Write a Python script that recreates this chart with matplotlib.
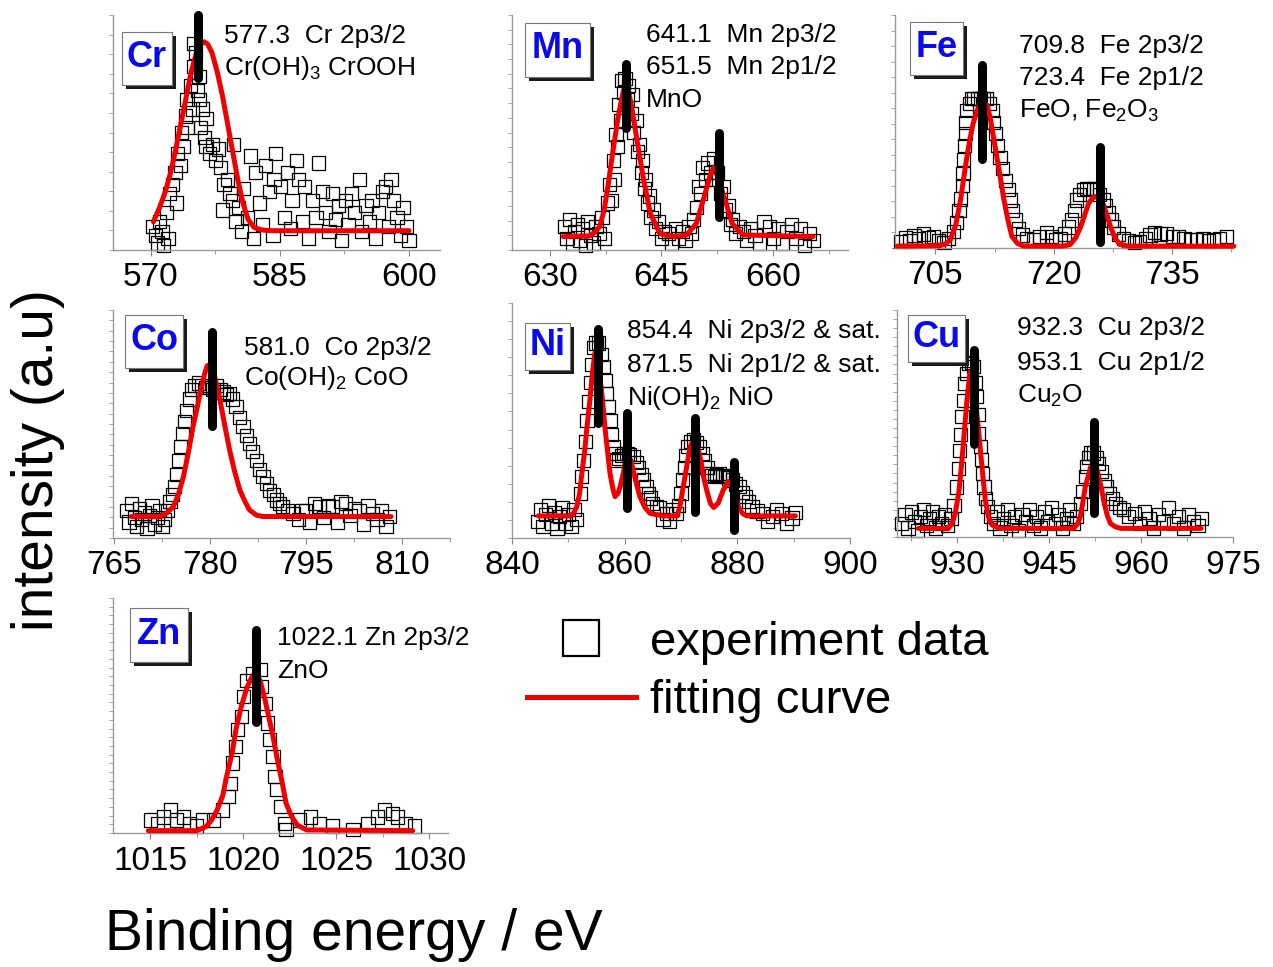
import matplotlib
matplotlib.use("Agg")
import matplotlib.pyplot as plt
import matplotlib.patheffects as pe
from matplotlib.patches import Rectangle
from matplotlib.lines import Line2D
from matplotlib.ticker import MultipleLocator
import numpy as np

plt.rcParams['font.family'] = ['Liberation Sans', 'DejaVu Sans']
plt.rcParams['mathtext.fontset'] = 'custom'
plt.rcParams['mathtext.rm'] = 'Liberation Sans'
plt.rcParams['mathtext.it'] = 'Liberation Sans:italic'
plt.rcParams['mathtext.bf'] = 'Liberation Sans:bold'

W, H = 1273, 967

# ---------------- data (intensity in arbitrary units, 0-100 per panel) ----------------
# Cr 2p
cr_x = [570.2, 570.5, 570.8, 571.0, 571.3, 571.5, 571.8, 572.0, 572.2, 572.5, 572.8, 573.0, 573.1, 573.4,
        573.6, 573.8, 574.0, 574.2, 574.3, 574.6, 574.8, 575.0, 575.0, 575.2, 575.4, 575.6, 575.6, 575.8,
        576.0, 576.2, 576.4, 576.4, 576.8, 577.2, 577.5, 577.9, 578.1, 578.3, 578.5, 578.9, 579.2, 579.5,
        579.6, 579.9, 580.2, 580.5, 580.8, 581.2, 581.6, 581.9, 582.2, 582.6, 583.0, 583.3, 583.8, 584.2,
        584.5, 584.3, 585.1, 585.5, 585.9, 586.2, 586.4, 586.9, 587.2, 587.6, 587.9, 588.3, 588.8, 589.2,
        589.5, 589.9, 590.3, 590.7, 591.1, 591.5, 591.8, 592.2, 592.6, 592.9, 593.3, 593.7, 594.2, 594.5,
        595.0, 595.4, 595.7, 596.1, 596.5, 596.9, 597.3, 597.6, 597.9, 598.2, 598.6, 599.0, 599.3, 599.7,
        600.0]
cr_y = [10, 6, 3, 12, 8, 2, 16, 5, 24, 28, 33, 20, 41, 36,
        50, 44, 57, 64, 52, 70, 60, 78, 88, 84, 68, 74, 64, 52,
        60, 48, 44, 56, 41, 45, 38, 43, 35, 17, 28, 30, 24, 21,
        45, 12, 18, 8, 26, 14, 40, 5, 33, 20, 11, 36, 25, 6,
        41, 30, 27, 14, 33, 9, 21, 38, 30, 12, 27, 5, 21, 14,
        37, 25, 16, 8, 24, 13, 19, 4, 21, 11, 24, 16, 30, 8,
        19, 12, 21, 5, 16, 25, 27, 10, 30, 21, 14, 6, 18, 10,
        4]
cr_fit_x = [570.3, 571.0, 571.7, 572.3, 572.9, 573.5, 574.1, 574.7, 575.3, 575.8, 576.2, 576.6, 577.1,
            577.7, 578.3, 578.9, 579.5, 580.1, 580.7, 581.3, 582.0, 582.8, 584.0, 590.0, 600.0]
cr_fit_y = [12, 18, 25, 33, 43, 54, 65, 76, 84, 87.6, 88.6, 87.6, 84,
            76, 66, 54, 42, 30, 20, 13, 9.6, 8.6, 8.2, 8.2, 8.2]

# Mn 2p
mn_x = [632.0, 632.3, 632.6, 633.0, 633.3, 633.7, 634.0, 634.4, 634.8, 635.1, 635.5, 635.9, 636.2, 636.6,
        637.0, 637.3, 637.7, 638.0, 638.3, 638.5, 638.7, 638.9, 639.1, 639.3, 639.5, 639.6, 639.9, 640.1,
        640.4, 640.6, 640.9, 641.1, 641.3, 641.6, 641.8, 642.1, 642.3, 642.5, 642.7, 642.9, 643.1, 643.4,
        643.6, 643.9, 644.2, 644.6, 645.0, 645.4, 646.0, 646.4, 646.9, 647.3, 647.8, 648.2, 648.7, 649.0,
        649.3, 649.7, 650.0, 650.3, 650.5, 650.9, 651.2, 651.6, 652.0, 652.3, 652.6, 652.9, 653.3, 653.6,
        654.0, 654.3, 654.6, 655.0, 655.5, 656.0, 656.5, 657.0, 657.6, 658.2, 658.8, 659.5, 660.1, 660.7,
        661.3, 661.9, 662.5, 663.1, 663.7, 664.3, 664.9, 665.5]
mn_y = [10, 5, 13, 3, 8, 11, 4, 9, 2, 12, 6, 3, 10, 7,
        14, 5, 20, 28, 21, 38, 30, 49, 44, 62, 55, 72, 67, 73,
        64, 70, 58, 66, 50, 55, 42, 45, 33, 38, 26, 30, 20, 23,
        14, 17, 9, 12, 5, 8, 7, 3, 9, 5, 8, 4, 10, 7,
        13, 18, 27, 24, 35, 30, 37, 33, 39, 30, 33, 24, 27, 17,
        19, 11, 13, 7, 10, 8, 4, 9, 6, 3, 12, 10, 5, 9,
        3, 8, 11, 5, 9, 2, 7, 4]
mn_fit_x = [631.8, 635.4, 636.2, 636.7, 637.3, 637.8, 638.5, 639.2, 639.9, 640.3, 640.6, 641.0, 641.7,
            642.6, 643.5, 644.8, 646.6, 648.4, 649.7, 650.6, 651.5, 652.0, 652.6, 653.6, 654.5, 656.0, 665.4]
mn_fit_y = [5.7, 6, 8, 10, 17, 27, 42.5, 57, 68, 69, 67, 61, 47,
            30, 15.6, 7, 5.7, 6.4, 11.3, 21, 31, 35, 31, 21, 11.3, 6.4, 5.7]

# Fe 2p
fe_x = [700.6, 701.2, 701.8, 702.3, 702.9, 703.5, 704.1, 704.8, 705.4, 706.1, 706.7, 707.3, 707.7, 708.0,
        708.2, 708.4, 708.5, 708.6, 708.7, 708.8, 708.9, 709.0, 709.3, 709.6, 709.9, 710.3, 710.7, 711.1,
        711.5, 711.9, 712.2, 712.4, 712.6, 712.9, 713.2, 713.5, 713.9, 714.2, 714.5, 714.8, 715.1, 715.5,
        716.0, 716.6, 717.4, 718.2, 719.1, 719.7, 720.2, 720.8, 721.4, 721.9, 722.3, 722.6, 722.9, 723.3,
        723.8, 724.2, 724.6, 725.0, 725.4, 725.8, 726.3, 726.6, 726.9, 727.3, 727.6, 728.2, 728.8, 729.5,
        730.2, 730.9, 731.6, 732.2, 732.8, 733.5, 734.3, 735.0, 735.8, 736.5, 737.3, 738.1, 738.9, 739.6,
        740.2, 741.0, 741.9]
fe_y = [2.7, 4.5, 3, 5.5, 4, 6, 4.5, 5, 3, 2.5, 4, 7, 11, 16,
        21, 27, 32, 38, 44, 49, 54, 59, 62, 64, 64, 64, 64, 64,
        64, 62, 59, 54, 49, 44, 39, 34, 29, 25, 20.6, 16, 12, 8.5,
        5.6, 4, 3.4, 5, 6.5, 5, 3.4, 4, 6, 9, 12, 16, 20.6, 23,
        25, 25.6, 25.6, 25.6, 25, 23, 20.6, 18, 15, 12, 9, 6, 4.2, 3,
        2.5, 2.7, 4, 5.6, 6.5, 6, 6.3, 5, 4.8, 4, 3.5, 3.4, 4, 3,
        3.4, 4, 4.8]
fe_fit_x = [700.2, 705.6, 706.3, 706.9, 707.6, 708.2, 708.6, 709.0, 709.4, 709.8, 710.3, 710.7, 711.1,
            711.6, 712.0, 712.4, 712.8, 713.3, 713.7, 714.2, 714.7, 715.4, 716.2, 720.8, 721.5, 722.1,
            722.8, 723.4, 723.9, 724.4, 724.9, 725.3, 725.8, 726.3, 726.8, 727.2, 727.8, 728.4, 729.5, 742.8]
fe_fit_y = [0.8, 1, 1.8, 3.4, 10, 20.6, 30, 39, 47, 53.5, 59, 62, 63,
            61, 55, 47, 39, 29, 20.6, 12, 5, 2, 0.8, 0.8, 1, 1.5,
            4.5, 9, 14, 19, 21.5, 22, 21, 18.5, 13.5, 9, 4, 1.5, 0.8, 0.8]

# Co 2p
co_x = [767.0, 767.4, 767.8, 768.2, 768.6, 769.0, 769.4, 769.8, 770.2, 770.6, 771.0, 771.4, 771.8, 772.2,
        772.6, 773.0, 773.4, 773.8, 774.2, 774.5, 774.8, 775.1, 775.4, 775.7, 776.0, 776.4, 776.8, 777.2,
        777.7, 778.2, 778.7, 779.3, 779.9, 780.5, 781.0, 781.6, 782.1, 782.6, 783.1, 783.6, 784.1, 784.6,
        785.2, 785.7, 786.2, 786.7, 787.3, 787.8, 788.3, 788.8, 789.3, 789.9, 790.4, 790.9, 791.4, 792.2,
        793.0, 793.8, 794.4, 795.0, 795.6, 796.3, 797.1, 797.8, 798.5, 799.2, 799.9, 800.5, 801.2, 801.9,
        802.6, 803.3, 804.0, 804.7, 805.4, 806.1, 806.8, 807.5, 808.0]
co_y = [12, 7, 15, 9, 5, 13, 8, 11, 4, 10, 14, 6, 9, 12,
        5, 8, 12, 16, 19, 22.5, 28, 34, 40, 46, 51, 56, 61, 65,
        67, 68, 67, 66, 66, 65, 67, 65, 64, 63, 63.5, 61, 57.6, 53,
        49, 45, 41.5, 38, 34, 30, 27, 24, 21, 19, 16.7, 15, 13.7, 12,
        10.8, 8, 12, 12, 7, 15, 13.7, 9, 14, 13.7, 7, 16, 15, 10,
        13, 12, 6, 14, 10.8, 8, 12, 5, 9.4]
co_fit_x = [767.8, 772.2, 773.3, 774.3, 775.1, 775.9, 776.7, 777.4, 778.1, 778.7, 779.2, 779.6, 780.0,
            780.5, 781.0, 781.6, 782.3, 783.1, 783.9, 784.7, 785.5, 786.2, 787.3, 788.3, 808.3]
co_fit_y = [9.4, 9.4, 11, 13.7, 19, 27, 38, 49, 58, 66, 72, 75.5, 76,
            74, 68, 60.5, 50, 38.6, 29, 21, 16, 12.3, 10, 9.4, 9.4]

# Ni 2p
ni_x = [844.5, 845.0, 845.5, 846.0, 846.5, 847.0, 847.5, 848.0, 848.5, 849.0, 849.5, 850.0, 850.5, 851.0,
        851.5, 852.1, 852.4, 852.7, 853.0, 853.3, 853.6, 853.9, 854.2, 854.5, 854.9, 855.4, 855.8, 856.2,
        856.5, 856.8, 857.1, 857.4, 857.7, 858.0, 858.3, 858.6, 859.0, 859.4, 859.8, 860.4, 860.9, 861.5,
        862.0, 862.4, 862.9, 863.3, 863.8, 864.2, 864.6, 865.0, 865.6, 866.2, 866.8, 867.4, 868.0, 868.5,
        869.1, 869.6, 870.0, 870.3, 870.6, 870.9, 871.2, 871.7, 872.2, 872.8, 873.3, 873.8, 874.2, 874.6,
        875.0, 875.5, 875.9, 876.3, 876.8, 877.4, 878.0, 878.5, 879.1, 879.7, 880.3, 880.9, 881.4, 882.0,
        882.6, 883.5, 884.4, 885.3, 886.2, 887.0, 887.9, 888.8, 889.7, 890.3]
ni_y = [7, 12, 5, 10, 14, 6, 11, 4, 9, 13, 6, 10, 5, 12,
        8, 19, 26, 33, 41, 50, 58, 66, 74, 81, 83, 83, 78, 73,
        67, 61.6, 56, 50, 44, 39, 36, 33, 34, 35, 36, 36, 35.5, 34.6,
        32, 30, 27, 24.7, 22, 19, 17, 14.8, 13.5, 12.8, 8, 10.5, 7, 12,
        10.5, 14, 19, 25, 30, 35, 38.8, 41, 41.7, 40.5, 38.8, 36, 33, 30,
        27.5, 26.5, 26, 27, 27.5, 26.5, 26, 25.5, 24.7, 23, 21.8, 19.5, 17.6, 15.5,
        13.3, 11.5, 10.5, 7, 9, 12, 10.5, 6, 8.5, 11]
ni_fit_x = [844.7, 850.3, 850.9, 851.5, 852.0, 852.4, 852.9, 853.3, 853.8, 854.2, 854.7, 855.2, 855.6,
            856.1, 856.5, 857.0, 857.4, 857.9, 858.3, 858.8, 859.2, 859.7, 860.1, 860.7, 861.1, 861.5,
            862.1, 862.7, 863.6, 864.5, 866.8, 869.3, 869.8, 870.2, 870.7, 871.2, 871.6, 872.2, 872.7,
            873.1, 873.6, 874.0, 874.6, 875.2, 875.8, 876.6, 877.5, 878.4, 879.3, 879.8, 880.2, 880.9,
            881.7, 890.3]
ni_fit_y = [9.4, 9.4, 10.5, 13.3, 19, 27.5, 37, 47, 58, 68.6, 78.6, 75, 68.6,
            58, 47, 36, 27.5, 21, 17.6, 19, 21.8, 27, 31.8, 34.6, 33, 29,
            23, 17.6, 13, 10.5, 9.4, 9.4, 13.3, 19, 26, 33, 38.8, 41.7, 40.5,
            37.4, 32, 26, 20, 14.8, 13, 14.8, 20.4, 24, 21.8, 17.5, 13.3, 10.5,
            9.4, 9.4]

# Cu 2p
cu_x = [921.0, 921.5, 922.0, 922.5, 923.0, 923.5, 924.0, 924.5, 925.0, 925.5, 926.0, 926.5, 927.0, 927.5,
        928.0, 928.5, 929.0, 929.5, 929.9, 930.2, 930.4, 930.6, 930.8, 931.0, 931.3, 931.6, 931.9, 932.3,
        932.7, 933.0, 933.2, 933.4, 933.5, 933.8, 934.0, 934.2, 934.4, 934.7, 935.0, 935.5, 936.0, 936.5,
        937.0, 937.6, 938.2, 938.8, 939.4, 940.0, 940.6, 941.2, 941.8, 942.4, 943.0, 943.6, 944.2, 944.8,
        945.4, 946.0, 946.6, 947.2, 947.8, 948.4, 949.0, 949.5, 950.1, 950.5, 950.9, 951.2, 951.4, 951.8,
        952.3, 952.7, 953.1, 953.5, 954.0, 954.4, 954.8, 955.3, 955.9, 956.5, 957.2, 958.0, 958.9, 959.7,
        960.5, 961.3, 962.1, 962.9, 963.7, 964.5, 965.3, 966.1, 966.9, 967.7, 968.5, 969.3, 969.8]
cu_y = [6, 10, 4, 11, 7, 3, 9, 12, 5, 8, 11, 4, 9, 6,
        10, 5, 8, 14, 22, 30, 38, 45, 53, 60, 67.6, 72, 76.4, 77,
        75, 68, 62, 54, 45.6, 40, 34, 28, 22, 17, 13.3, 9, 6, 11,
        4, 8, 12, 5, 9, 3, 10, 7, 12, 5, 9, 4, 11, 7,
        13, 6, 10, 4, 8, 12, 6, 9, 14.8, 20, 26.6, 31, 35, 37,
        37, 35, 32.5, 29, 25, 22, 19, 17, 14.8, 13, 12, 9, 10.4, 6,
        11, 8, 4, 10, 7, 13, 6, 9, 4, 10, 7, 5, 8]
cu_fit_x = [923.7, 928.6, 929.2, 929.7, 930.3, 930.8, 931.2, 931.6, 932.1, 932.5, 932.9, 933.4, 933.8,
            934.2, 934.6, 935.1, 935.7, 936.9, 949.0, 949.6, 950.1, 950.5, 950.9, 951.4, 951.8, 952.3,
            952.7, 953.1, 953.6, 954.0, 954.5, 955.0, 955.8, 956.7, 969.8]
cu_fit_y = [3.8, 3.8, 6, 10.4, 20, 34, 47, 60, 72.8, 70, 62, 50, 38.3,
            27, 16.3, 9, 5.3, 3.8, 3.8, 5.5, 9, 15, 22, 27, 31, 32.5,
            31, 26.6, 20.5, 14.8, 9.5, 6, 4.5, 3.8, 3.8]

# Zn 2p
zn_x = [1015.0, 1015.4, 1015.7, 1016.1, 1016.4, 1016.8, 1017.1, 1017.5, 1017.8, 1018.4, 1018.9, 1019.2,
        1019.3, 1019.4, 1019.6, 1019.7, 1019.9, 1020.0, 1020.2, 1020.5, 1020.9, 1021.0, 1021.2, 1021.3,
        1021.4, 1021.6, 1021.7, 1021.8, 1022.0, 1022.2, 1022.3, 1023.0, 1023.6, 1024.1, 1024.8, 1025.9,
        1026.7, 1027.2, 1027.6, 1028.0, 1028.3, 1028.7, 1029.2]
zn_y = [5.5, 4, 6.8, 9.8, 5.5, 6.8, 4, 3, 5.5, 5.5, 9.8, 15.5,
        21, 29.8, 36.9, 44, 49.6, 58.2, 65, 68, 69.6, 62.4, 55, 46.8,
        39.7, 32.6, 24, 18.4, 11.3, 4.2, 1.4, 5.5, 6.8, 4, 3, 1.4,
        4, 6.8, 9.8, 8.4, 6.8, 4, 3]
zn_fit_x = [1014.9, 1017.5, 1018.0, 1018.3, 1018.6, 1018.9, 1019.1, 1019.4, 1019.6, 1019.9, 1020.2,
            1020.5, 1020.9, 1021.1, 1021.3, 1021.6, 1021.8, 1022.1, 1022.3, 1022.6, 1022.9, 1023.4, 1029.1]
zn_fit_y = [1, 1, 2.7, 5.5, 9.8, 16, 24, 34, 43.8, 54, 62,
            67, 65, 59, 52, 41, 32.5, 21, 12.6, 7, 3.4, 1.3, 1]

# peak markers: position, lower end, upper end
cr_bars = [(575.5, 73, 100)]
mn_bars = [(640.3, 52, 79), (652.8, 14, 50)]
fe_bars = [(710.9, 38, 78.5), (725.8, 2.7, 43.5)]
co_bars = [(780.4, 49, 90.5)]
ni_bars = [(855.3, 49, 89), (860.5, 12.8, 53), (872.5, 11, 51), (879.4, 3.4, 32.5)]
cu_bars = [(932.8, 41, 82.4), (952.4, 10.4, 50.8)]
zn_bars = [(1020.7, 47.4, 86.4)]

# ---------------- layout (pixels) ----------------
panels = [
    dict(name='Cr', box=(113, 15, 440, 250), xlim=(565.6, 603.6), xt=[570, 585, 600], minor=7.5, nyt=12,
         x=cr_x, y=cr_y, fx=cr_fit_x, fy=cr_fit_y, bars=cr_bars, lab=(122, 32, 172, 85),
         txt=(224, [43, 75]), lines=['577.3  Cr 2p3/2', 'Cr(OH)$_3$ CrOOH']),
    dict(name='Mn', box=(512, 15, 848, 250), xlim=(624.9, 670.1), xt=[630, 645, 660], minor=7.5, nyt=16,
         x=mn_x, y=mn_y, fx=mn_fit_x, fy=mn_fit_y, bars=mn_bars, lab=(525, 23, 590, 77),
         txt=(646, [42, 74, 107]), lines=['641.1  Mn 2p3/2', '651.5  Mn 2p1/2', 'MnO']),
    dict(name='Fe', box=(895, 15, 1233, 248), xlim=(699.9, 742.7), xt=[705, 720, 735], minor=7.5, nyt=15,
         x=fe_x, y=fe_y, fx=fe_fit_x, fy=fe_fit_y, bars=fe_bars, lab=(910, 22, 963, 75),
         txt=(1019, [53, 85, 118]), lines=['709.8  Fe 2p3/2', '723.4  Fe 2p1/2', 'FeO, Fe$_2$O$_3$']),
    dict(name='Co', box=(113, 310, 450, 538), xlim=(764.9, 817.5), xt=[765, 780, 795, 810], minor=7.5, nyt=22,
         x=co_x, y=co_y, fx=co_fit_x, fy=co_fit_y, bars=co_bars, lab=(125, 315, 183, 368),
         txt=(244, [355, 385]), lines=['581.0  Co 2p3/2', 'Co(OH)$_2$ CoO']),
    dict(name='Ni', box=(512, 303, 850, 538), xlim=(840, 900), xt=[840, 860, 880, 900], minor=10, nyt=13,
         x=ni_x, y=ni_y, fx=ni_fit_x, fy=ni_fit_y, bars=ni_bars, lab=(525, 323, 570, 370),
         txt=(627, [338, 372, 405]), lines=['854.4  Ni 2p3/2 & sat.', '871.5  Ni 2p1/2 & sat.', 'Ni(OH)$_2$ NiO']),
    dict(name='Cu', box=(897, 310, 1233, 537), xlim=(920.2, 975), xt=[930, 945, 960, 975], minor=7.5, nyt=25,
         x=cu_x, y=cu_y, fx=cu_fit_x, fy=cu_fit_y, bars=cu_bars, lab=(908, 315, 965, 362),
         txt=(1017, [335, 370, 403]), lines=['932.3  Cu 2p3/2', '953.1  Cu 2p1/2', 'Cu$_2$O']),
    dict(name='Zn', box=(113, 598, 448, 833), xlim=(1013.0, 1031.0), xt=[1015, 1020, 1025, 1030], minor=2.5, nyt=27,
         x=zn_x, y=zn_y, fx=zn_fit_x, fy=zn_fit_y, bars=zn_bars, lab=(130, 608, 188, 662),
         txt=(277, [645, 678]), lines=['1022.1 Zn 2p3/2', 'ZnO']),
]


def fxp(px):
    return px / W


def fyp(py):
    return 1 - py / H


fig = plt.figure(figsize=(W / 100, H / 100), dpi=100)

for p in panels:
    l, t, r, b = p['box']
    ax = fig.add_axes([fxp(l), fyp(b), (r - l) / W, (b - t) / H])
    ax.scatter(p['x'], p['y'], s=90, marker='s', facecolors='none', edgecolors='k',
               linewidths=0.9, clip_on=False, zorder=2)
    ax.plot(p['fx'], p['fy'], color='#f00000', lw=3.6, solid_joinstyle='round',
            solid_capstyle='round', clip_on=False, zorder=3)
    for bx, lo, hi in p['bars']:
        ax.plot([bx, bx], [lo, hi], color='k', lw=6.5, solid_capstyle='round',
                clip_on=False, zorder=4)
    ax.set_xlim(*p['xlim'])
    ax.set_ylim(0, 100)
    ax.set_xticks(p['xt'])
    ax.xaxis.set_minor_locator(MultipleLocator(p['minor']))
    ax.set_yticks(np.linspace(0, 100, p['nyt'] + 1))
    ax.tick_params(axis='x', which='major', direction='out', length=4, width=0.8,
                   color='#888888', labelsize=24, pad=5)
    ax.tick_params(axis='x', which='minor', direction='out', length=3, width=0.6, color='#888888')
    ax.tick_params(axis='y', direction='out', length=3, width=0.6, color='#999999', labelleft=False)
    for s in ['top', 'right']:
        ax.spines[s].set_visible(False)
    for s in ['left', 'bottom']:
        ax.spines[s].set_color('#999999')
        ax.spines[s].set_linewidth(1.0)
    ax.patch.set_alpha(0)

    # element label box with drop shadow
    bl, bt, br, bb = p['lab']
    rect = Rectangle((fxp(bl), fyp(bb)), (br - bl) / W, (bb - bt) / H, transform=fig.transFigure,
                     fc='white', ec='#777777', lw=0.8, zorder=5)
    rect.set_path_effects([pe.SimplePatchShadow(offset=(3, -3), shadow_rgbFace='#1a1a1a', alpha=1.0),
                           pe.Normal()])
    fig.add_artist(rect)
    fig.text(fxp((bl + br) / 2), fyp((bt + bb) / 2 - 1), p['name'], ha='center', va='center',
             fontsize=26, fontweight='bold', color='#0a0aea', zorder=6)

    tx, bys = p['txt']
    for line, by in zip(p['lines'], bys):
        fig.text(fxp(tx), fyp(by), line, ha='left', va='baseline', fontsize=19)

# legend
handles = [Line2D([], [], marker='s', ls='none', mfc='none', mec='k', ms=26, mew=1.6),
           Line2D([], [], color='#f00000', lw=3.6)]
fig.legend(handles, ['experiment data', 'fitting curve'], loc='upper left',
           bbox_to_anchor=(fxp(527), fyp(621)), frameon=False, fontsize=34,
           handlelength=2.3, handletextpad=0.3, labelspacing=0.3,
           borderpad=0, borderaxespad=0)

fig.text(fxp(38), fyp(460), 'intensity (a.u)', rotation=90, ha='center', va='center', fontsize=41)
fig.text(fxp(105), fyp(935), 'Binding energy / eV', ha='left', va='center', fontsize=41)

fig.savefig('out.png', dpi=100)
